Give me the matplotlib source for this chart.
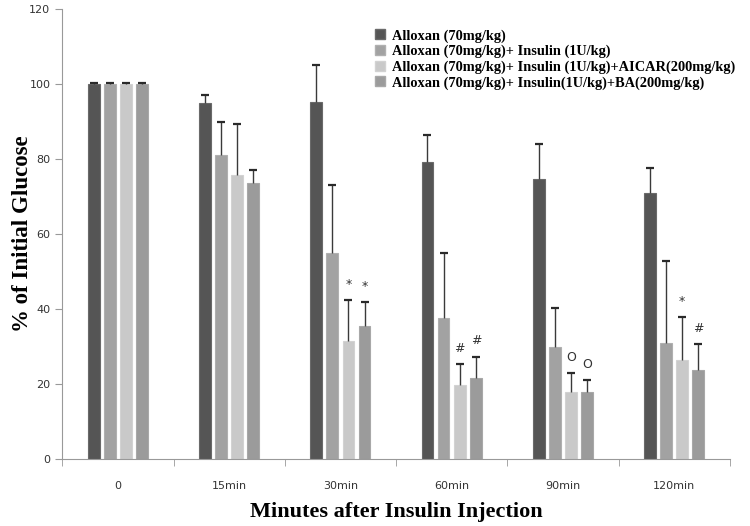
import numpy as np
from matplotlib import pyplot as plt
from matplotlib.patches import Patch

categories = ['0', '15min', '30min', '60min', '90min', '120min']
series = ['Alloxan (70mg/kg)',
          'Alloxan (70mg/kg)+ Insulin (1U/kg)',
          'Alloxan (70mg/kg)+ Insulin (1U/kg)+AICAR(200mg/kg)',
          'Alloxan (70mg/kg)+ Insulin(1U/kg)+BA(200mg/kg)']

alloxan = [100, 94.8, 95.2, 79.3, 74.7, 71.0]
insulin = [100, 81.1, 55.0, 37.6, 29.9, 31.0]
aicar = [100, 75.8, 31.5, 19.8, 17.9, 26.5]
ba = [100, 73.7, 35.4, 21.6, 17.8, 23.8]

alloxan_err = [0.2, 2.3, 9.9, 7.2, 9.3, 6.7]
insulin_err = [0.2, 8.8, 18.0, 17.4, 10.4, 21.7]
aicar_err = [0.2, 13.6, 10.9, 5.6, 5.0, 11.4]
ba_err = [0.2, 3.3, 6.4, 5.7, 3.3, 6.8]

# significance marks: (category, series index, symbol)
marks = [(2, 2, '*'), (2, 3, '*'), (3, 2, '#'), (3, 3, '#'),
         (4, 2, 'O'), (4, 3, 'O'), (5, 2, '*'), (5, 3, '#')]

values = [alloxan, insulin, aicar, ba]
errors = [alloxan_err, insulin_err, aicar_err, ba_err]
colors = ['#555555', '#a2a2a2', '#c9c9c9', '#9b9b9b']
edges = ['#6a6a6a', '#b0b0b0', '#d2d2d2', '#a8a8a8']

fig = plt.figure(figsize=(7.5, 5.26), dpi=100)
ax = fig.add_axes([0.083, 0.127, 0.89, 0.856])

x = np.arange(len(categories))
w = 0.105
step = 0.145
for i in range(4):
    xs = x + (i - 1.5) * step
    v = np.array(values[i])
    e = np.array(errors[i])
    ax.bar(xs, v, w, color=colors[i], edgecolor=edges[i], linewidth=0.8, zorder=2)
    ax.vlines(xs, v, v + e, color='#3a3a3a', linewidth=1.0, zorder=3)
    ax.scatter(xs, v + e, marker='_', s=40, color='#2a2a2a', linewidths=1.6, zorder=3)

for c, s, sym in marks:
    xx = x[c] + (s - 1.5) * step
    top = values[s][c] + errors[s][c]
    ax.text(xx, top + 2.5, sym, ha='center', va='bottom', fontsize=9, color='#333333')

ax.set_xlim(-0.5, 5.5)
ax.set_ylim(0, 120)
ax.set_yticks(np.arange(0, 121, 20))
ax.set_xticks(x)
ax.set_xticklabels(categories)
ax.set_xticks(np.arange(-0.5, 5.6, 1), minor=True)
ax.tick_params(axis='x', which='major', length=0, pad=16, labelsize=8, labelcolor='#333333')
ax.tick_params(axis='x', which='minor', length=5, color='#999999', direction='out')
ax.tick_params(axis='y', length=5, color='#999999', labelsize=8, labelcolor='#333333')
for sp in ['top', 'right']:
    ax.spines[sp].set_visible(False)
for sp in ['left', 'bottom']:
    ax.spines[sp].set_color('#999999')

ax.set_ylabel('% of Initial Glucose', fontfamily='Liberation Serif', fontweight='bold',
              fontsize=16.5)
ax.yaxis.set_label_coords(-0.044, 0.5)
ax.set_xlabel('Minutes after Insulin Injection', fontfamily='Liberation Serif',
              fontweight='bold', fontsize=16)
ax.xaxis.set_label_coords(0.5, -0.096)

handles = [Patch(facecolor=colors[i], edgecolor=edges[i]) for i in range(4)]
ax.legend(handles, series, loc='upper left', bbox_to_anchor=(0.46, 0.968), frameon=False,
          prop={'family': 'Liberation Serif', 'weight': 'bold', 'size': 10.4},
          handlelength=0.7, handleheight=0.7, handletextpad=0.45, labelspacing=0.15,
          borderaxespad=0)

fig.savefig('out.png', dpi=100)
